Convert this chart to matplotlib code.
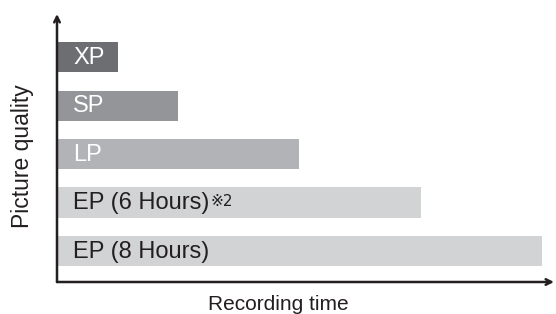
import matplotlib
matplotlib.use("Agg")
import matplotlib.pyplot as plt

# Recording modes (top to bottom) and relative recording time (hours)
modes = ["XP", "SP", "LP", "EP (6 Hours)", "EP (8 Hours)"]
hours = [1, 2, 4, 6, 8]
bar_colors = ["#6d6e71", "#939598", "#b1b3b6", "#d1d3d4", "#d1d3d4"]
text_colors = ["white", "white", "white", "#231f20", "#231f20"]
notes = ["", "", "", "※2", ""]

plt.rcParams['font.family'] = ['Liberation Sans', 'DejaVu Sans']

fig = plt.figure(figsize=(5.56, 3.14), dpi=100)
ax = fig.add_axes([57 / 556, (314 - 282) / 314, 497 / 556, 268 / 314])

n = len(modes)
ypos = [n - 1 - i for i in range(n)]
ax.barh(ypos, hours, height=0.62, color=bar_colors, left=0)
ax.set_xlim(0, 8.2)
ax.set_ylim(-0.64, 4.89)

labels = []
for y, m, tc in zip(ypos, modes, text_colors):
    t = ax.annotate(m, xy=(0, y), xytext=(11.5, -0.5), textcoords='offset points',
                    va='center', ha='left', color=tc, fontsize=17)
    labels.append(t)

fig.canvas.draw()
renderer = fig.canvas.get_renderer()
for t, note, tc in zip(labels, notes, text_colors):
    if note:
        bb = t.get_window_extent(renderer)
        ax.annotate(note, xy=(bb.x1 + 1, bb.y1 - 2), xycoords='figure pixels',
                    va='top', ha='left', color=tc, fontsize=11,
                    family=['DejaVu Sans'])

for s in ax.spines.values():
    s.set_visible(False)
ax.set_xticks([])
ax.set_yticks([])

ax.annotate('', xy=(1.0, 0), xytext=(0, 0), xycoords='axes fraction',
            arrowprops=dict(arrowstyle='->', lw=1.8, color='#231f20',
                            shrinkA=0, shrinkB=0))
ax.annotate('', xy=(0, 1.0), xytext=(0, 0), xycoords='axes fraction',
            arrowprops=dict(arrowstyle='->', lw=1.8, color='#231f20',
                            shrinkA=0, shrinkB=0))

fig.text(278 / 556, 1 - 305 / 314, "Recording time", ha='center', va='center',
         fontsize=15, color='#231f20')
fig.text(22 / 556, 1 - 156 / 314, "Picture quality", ha='center', va='center',
         rotation=90, fontsize=16.5, color='#231f20')

fig.savefig("out.png", dpi=100)
